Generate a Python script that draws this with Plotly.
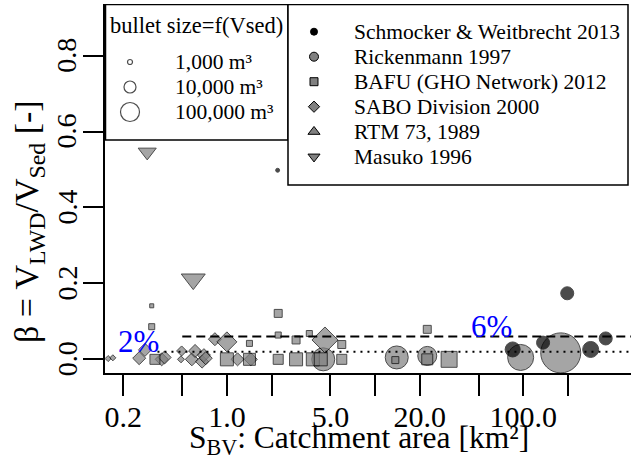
import numpy as np
import plotly.graph_objects as go

# ---------------- data ----------------
# Schmocker & Weitbrecht 2013
sw_area = [2.2, 84.8, 136, 198, 285, 360]
sw_beta = [0.498, 0.026, 0.044, 0.174, 0.026, 0.055]
sw_vsed = [700, 27000, 14000, 14000, 37000, 14000]

# Rickenmann 1997
rk_area = [4.47, 14.0, 22.5, 96, 179]
rk_beta = [0.0, 0.005, 0.009, 0.005, 0.017]
rk_vsed = [373000, 373000, 100000, 1000000, 100000000]

# BAFU (GHO Network) 2012
bf_area = [0.311, 0.311, 0.327, 1.0, 1.42, 1.42, 2.22, 2.22, 2.22, 2.93, 3.6, 2.93,
           3.8, 4.3, 5.96, 5.96, 13.7, 22.5, 22.5, 31.6]
bf_beta = [0.141, 0.086, 0.0, 0.0, 0.042, 0.0, 0.0, 0.121, 0.064, 0.051, 0.068, 0.0,
           0.0, 0.0, 0.039, 0.0, -0.002, 0.0, 0.079, 0.0]
bf_vsed = [850, 1800, 7900, 24000, 1800, 16500, 7900, 3700, 1800, 3700, 1800, 24000,
           24000, 24000, 3700, 7900, 2600, 11400, 3700, 72000]

# SABO Division 2000
sb_area = [0.158, 0.17, 0.28, 0.256, 0.363, 0.38, 0.495, 0.49, 0.58, 0.61, 0.68, 0.70,
           0.72, 0.83, 1.0, 1.18, 1.45, 4.59]
sb_beta = [0.002, 0.004, 0.025, 0.003, 0.0, 0.005, 0.022, 0.0, 0.0, 0.022, -0.006, 0.011,
           0.003, 0.053, 0.046, 0.0, 0.0, 0.051]
sb_vsed = [940, 940, 5900, 5900, 5900, 5900, 2700, 1200, 5900, 5900, 5900, 5900,
           5900, 5900, 37000, 5900, 5900, 177000]

# RTM 73, 1989
rtm_area = []
rtm_beta = []
rtm_vsed = []

# Masuko 1996
ms_area = [0.29, 0.593]
ms_beta = [0.546, 0.211]
ms_vsed = [16000, 68000]

# reference ratios
ref_levels = [0.02, 0.06]
ref_labels = ["2%", "6%"]
ref_start = [0.34, 0.5]
ref_label_x = [0.255, 61.5]
ref_label_y = [0.048, 0.086]

legend_vols = [1000, 10000, 100000]
legend_vol_labels = ["1,000 m³", "10,000 m³", "100,000 m³"]
series_names = ["Schmocker & Weitbrecht 2013", "Rickenmann 1997", "BAFU (GHO Network) 2012",
                "SABO Division 2000", "RTM 73, 1989", "Masuko 1996"]

x_tickvals = [0.2, 0.5, 1, 2, 5, 10, 20, 50, 100, 200]
x_ticktext = ["0.2", "", "1.0", "", "5.0", "", "20.0", "", "100.0", ""]
y_tickvals = [0.0, 0.2, 0.4, 0.6, 0.8]
y_ticktext = ["0.0", "0.2", "0.4", "0.6", "0.8"]

# ---------------- style ----------------
FONT = "Liberation Serif"
GREY = "#808080"


def diam(v):
    """bullet diameter (px) as a function of Vsed"""
    return 7.0 * np.log10(np.asarray(v, dtype=float)) - 16.0


# plotly symbol size factors to reproduce R's equal-area pch 21-25
SYM_FACTOR = {"circle": 1.0, "square": 0.886, "diamond": 0.964,
              "triangle-up": 1.166, "triangle-down": 1.166}

fig = go.Figure()


def add_series(x, y, v, symbol, color, name):
    fig.add_trace(go.Scatter(
        x=x, y=y, mode="markers", name=name, showlegend=False,
        marker=dict(symbol=symbol, size=(diam(v) * SYM_FACTOR[symbol]) if len(v) else [],
                    color=color, line=dict(color="black", width=1)),
        cliponaxis=False))


add_series(rk_area, rk_beta, rk_vsed, "circle", GREY, series_names[1])
add_series(sb_area, sb_beta, sb_vsed, "diamond", GREY, series_names[3])
add_series(bf_area, bf_beta, bf_vsed, "square", GREY, series_names[2])
add_series(rtm_area, rtm_beta, rtm_vsed, "triangle-up", GREY, series_names[4])
add_series(ms_area, ms_beta, ms_vsed, "triangle-down", GREY, series_names[5])
add_series(sw_area, sw_beta, sw_vsed, "circle", "black", series_names[0])

# reference lines
for lev, xs, dash in zip(ref_levels, ref_start, ["2px,5px", "9px,5px"]):
    fig.add_trace(go.Scatter(x=[xs, 1000], y=[lev, lev], mode="lines", showlegend=False,
                             line=dict(color="black", width=2, dash=dash), hoverinfo="skip"))

for lab, lx, ly in zip(ref_labels, ref_label_x, ref_label_y):
    fig.add_annotation(x=np.log10(lx), y=ly, xref="x", yref="y", text=lab, showarrow=False,
                       font=dict(family=FONT, size=31, color="#0000FF"))

# ---------------- legends (drawn on a pixel-scaled overlay) ----------------
L, R_, T, B = 105, 631, 4, 373
fig.update_layout(
    xaxis2=dict(overlaying="x", anchor="y2", range=[L, R_], visible=False, fixedrange=True),
    yaxis2=dict(overlaying="y", anchor="x2", range=[B, T], visible=False, fixedrange=True),
)
box_style = dict(type="rect", xref="x2", yref="y2", line=dict(color="black", width=1.5),
                 fillcolor="white", layer="below")
fig.add_shape(x0=105.5, x1=288, y0=4.5, y1=140, **box_style)
fig.add_shape(x0=288, x1=628, y0=4.5, y1=185, **box_style)

fig.add_annotation(x=196, y=25, xref="x2", yref="y2", text="bullet size=f(Vsed)",
                   showarrow=False, font=dict(family=FONT, size=22.5, color="black"))
leg1_y = [62, 87, 112]
fig.add_trace(go.Scatter(x=[130] * 3, y=leg1_y, xaxis="x2", yaxis="y2", mode="markers",
                         showlegend=False, hoverinfo="skip",
                         marker=dict(symbol="circle-open", size=diam(legend_vols), color="black",
                                     line=dict(width=1.2))))
for yy, lab in zip(leg1_y, legend_vol_labels):
    fig.add_annotation(x=173, y=yy, xref="x2", yref="y2", text=lab, xanchor="left",
                       showarrow=False, font=dict(family=FONT, size=21.5, color="black"))

leg2_y = [31.7 + 25 * i for i in range(6)]
leg2_sym = ["circle", "circle", "square", "diamond", "triangle-up", "triangle-down"]
leg2_col = ["black", GREY, GREY, GREY, GREY, GREY]
leg2_d = [7, 9, 9, 9, 9, 9]
for yy, sym, col, d, name in zip(leg2_y, leg2_sym, leg2_col, leg2_d, series_names):
    fig.add_trace(go.Scatter(x=[314], y=[yy], xaxis="x2", yaxis="y2", mode="markers",
                             showlegend=False, hoverinfo="skip",
                             marker=dict(symbol=sym, size=d * SYM_FACTOR[sym], color=col,
                                         line=dict(color="black", width=1))))
    fig.add_annotation(x=352, y=yy, xref="x2", yref="y2", text=name, xanchor="left",
                       showarrow=False, font=dict(family=FONT, size=21.5, color="black"))

# y tick labels (rotated, parallel to the axis) placed at the axis' tick values
for tv, tt in zip(y_tickvals, y_ticktext):
    fig.add_annotation(x=(67 - L) / (R_ - L), y=tv, xref="paper", yref="y", text=tt,
                       textangle=-90, xanchor="center", yanchor="middle", showarrow=False,
                       font=dict(family=FONT, size=28, color="black"))

# axis titles as annotations
fig.add_annotation(x=(29 - L) / (R_ - L), y=(B - 222) / (B - T), xref="paper", yref="paper",
                   xanchor="center", yanchor="middle",
                   text="β = V<sub>LWD</sub>/V<sub>Sed</sub> [-]", textangle=-90,
                   showarrow=False, font=dict(family=FONT, size=34, color="black"))
fig.add_annotation(x=(359 - L) / (R_ - L), y=(B - 440) / (B - T), xref="paper", yref="paper",
                   xanchor="center", yanchor="middle",
                   text="S<sub>BV</sub>: Catchment area [km²]",
                   showarrow=False, font=dict(family=FONT, size=31.5, color="black"))

# ---------------- axes / layout ----------------
fig.update_layout(
    width=633, height=461,
    margin=dict(l=L, r=633 - R_, t=T, b=461 - B, autoexpand=False),
    paper_bgcolor="white", plot_bgcolor="white",
    font=dict(family=FONT, color="black"),
    showlegend=False,
    xaxis=dict(type="log", range=[-0.8225, 2.727], tickvals=x_tickvals, ticktext=x_ticktext,
               ticks="outside", ticklen=21, tickwidth=1.5, tickcolor="black",
               showline=True, linecolor="black", linewidth=1.5, mirror=False,
               showgrid=False, zeroline=False, tickfont=dict(family=FONT, size=30),
               ticklabelstandoff=-5, automargin=False),
    yaxis=dict(range=[-0.036, 0.936], tickvals=y_tickvals, showticklabels=False,
               ticks="outside", ticklen=20, tickwidth=1.5, tickcolor="black",
               showline=True, linecolor="black", linewidth=1.5, mirror=False,
               showgrid=False, zeroline=False, automargin=False),
)

fig.write_html("out.html", config={"displayModeBar": False},
               post_script="document.body.style.margin='0';")
